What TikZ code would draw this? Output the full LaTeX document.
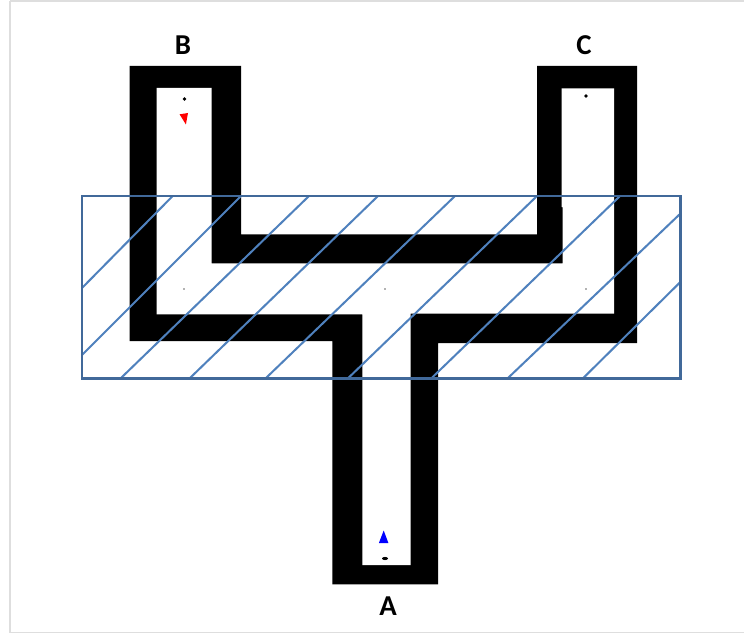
\documentclass[tikz,border=0pt]{standalone}
\usepackage{fontspec}
\setmainfont{Carlito}
\definecolor{framegray}{HTML}{DEDEDE}
\definecolor{bandblue}{HTML}{41699A}
\definecolor{hatchblue}{HTML}{4F81BD}
\tikzset{
  portlabel/.style={font=\fontsize{16.4}{18}\selectfont\bfseries,inner sep=0pt,text=black},
  bandframe/.style={draw=bandblue,line width=1.6pt},
  hatchline/.style={hatchblue,line width=1.15pt},
  probedot/.style={fill=black},
  faintdot/.style={fill=black!60}
}
\begin{document}
\begin{tikzpicture}[x=0.02cm,y=-0.02cm]
  \useasboundingbox (0,0) rectangle (744,635);
  % page edge
  \fill[white] (0,0) rectangle (744,635);
  \draw[framegray,line width=0.7pt] (10,1) -- (744,1);
  \draw[framegray,line width=0.7pt] (10,1) -- (10,632.5) -- (744,632.5);

  % black wall
  \fill[black] (129.5,66) -- (241,66) -- (241,234.3) -- (537,234.3) -- (537,66) -- (637,66)
    -- (637,343) -- (438,343) -- (438,584.3) -- (332.3,584.3) -- (332.3,341) -- (129.5,341) -- cycle;
  % channel
  \fill[white] (156.5,88) -- (211.7,88) -- (211.7,263.3) -- (562.7,263.3) -- (562.7,207) -- (561.7,207)
    -- (561.7,88.5) -- (614,88.5) -- (614,313.5) -- (410.7,313.5) -- (410.7,565) -- (362.3,565)
    -- (362.3,314.3) -- (156.5,314.3) -- cycle;

  % probes
  \fill[probedot] (184.5,99) circle (1.9);
  \fill[probedot] (586,96) circle (1.9);
  \fill[probedot] (385,558.5) ellipse (3 and 1.6);
  \foreach \px in {184,385,586} {
    \fill[faintdot] (\px,289) circle (0.8);
  }

  % flow marks
  \fill[red] (179.6,114.3) -- (188,113) -- (185.9,124.5) -- cycle;
  \fill[blue] (378.9,543) -- (388.4,543) -- (383.7,530.5) -- cycle;

  % hatched band
  \foreach \xa/\ya/\xb/\yb in {82/288/172.7/196, 82/355/241/196, 121/378/309/196, 190/378/378/196,
      266/378/455/196, 348.3/378/537/196, 431.7/378/620/196, 508/378/680.7/213.3, 583.3/378/680.7/281.7} {
    \draw[hatchline] (\xa,\ya) -- (\xb,\yb);
  }
  \draw[bandframe] (82,196) rectangle (680.7,378.5);

  % labels
  \node[portlabel] (portb) at (183,45) {B};
  \node[portlabel] (portc) at (584,45) {C};
  \node[portlabel] (porta) at (388,606) {A};
\end{tikzpicture}
\end{document}
